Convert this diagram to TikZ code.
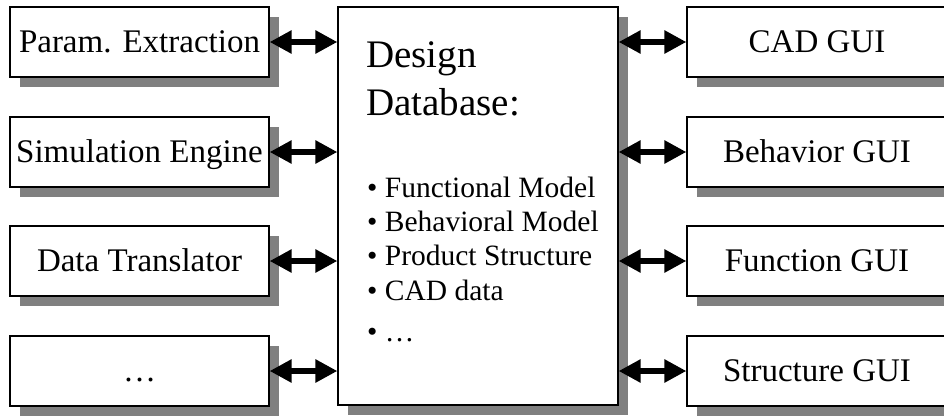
\documentclass[tikz,border=0pt]{standalone}
\usepackage{fontspec}
\setmainfont{Liberation Serif}
\usetikzlibrary{arrows.meta,shadows}
\begin{document}
\begin{tikzpicture}[x=1pt,y=-1pt,
  sbox/.style={draw=black, line width=1.2pt, fill=white, rectangle, inner sep=0pt,
    drop shadow={shadow xshift=10pt, shadow yshift=-10pt, fill=black!50, opacity=1},
    font=\fontsize{33}{36}\selectfont, text height=21.8pt, text depth=0pt},
  sidebox/.style={sbox, minimum width=259pt, minimum height=70pt},
  rbox/.style={sbox, minimum width=260pt, minimum height=70pt},
  dbl/.style={line width=5.5pt, {Triangle[length=22pt 0,width=22pt 0]}-{Triangle[length=22pt 0,width=22pt 0]}},
  bul/.style={anchor=base west, inner sep=0pt, font=\fontsize{29.5}{32}\selectfont},
  ttl/.style={anchor=base west, inner sep=0pt, font=\fontsize{39}{42}\selectfont}]
\useasboundingbox (0,0) rectangle (944,415);
% left column
\node[sidebox] (l1) at (139.5,42) {Param. Extraction};
\node[sidebox] (l2) at (139.5,152) {Simulation Engine};
\node[sidebox] (l3) at (139.5,261) {Data Translator};
\node[sidebox] (l4) at (139.5,371) {…};
% center
\node[sbox, minimum width=280pt, minimum height=398pt] (db) at (478,206) {};
\node[ttl] (t1) at (366,67) {Design};
\node[ttl] (t2) at (366,115) {Database:};
\node[bul] (b1) at (367,197) {• Functional Model};
\node[bul] (b2) at (367,231) {• Behavioral Model};
\node[bul] (b3) at (367,265) {• Product Structure};
\node[bul] (b4) at (367,300) {• CAD data};
\node[bul] (b5) at (367,341) {• …};
% right column
\node[rbox] (r1) at (817,42) {CAD GUI};
\node[rbox] (r2) at (817,152) {Behavior GUI};
\node[rbox] (r3) at (817,261) {Function GUI};
\node[rbox] (r4) at (817,371) {Structure GUI};
% connectors
\foreach \n in {l1,l2,l3,l4}{
  \draw[dbl] (\n.east) -- (\n.east -| db.west);
}
\foreach \n in {r1,r2,r3,r4}{
  \draw[dbl] (\n.west -| db.east) -- (\n.west);
}
\end{tikzpicture}
\end{document}
